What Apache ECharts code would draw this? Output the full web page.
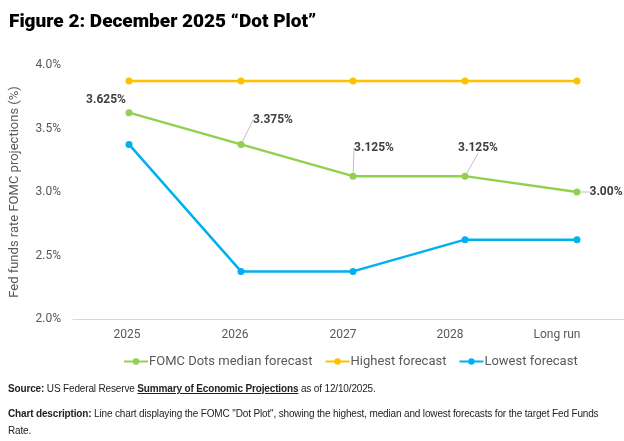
<!DOCTYPE html>
<html>
<head>
<meta charset="utf-8">
<script src="https://cdn.jsdelivr.net/npm/echarts@6/dist/echarts.min.js"></script>
<style>
html,body{margin:0;padding:0;background:#fff;}
#wrap{position:relative;width:624px;height:441px;overflow:hidden;}
#chart{position:absolute;left:0;top:0;width:633px;height:441px;}
.foot{position:absolute;left:8px;font-family:"Liberation Sans",Arial,sans-serif;font-size:10px;color:#222;letter-spacing:-0.15px;white-space:nowrap;}
.foot b{font-weight:bold;}
</style>
</head>
<body>
<div id="wrap">
<div id="chart"></div>
<div class="foot" style="top:383px;"><b>Source:</b> US Federal Reserve <b><u>Summary of Economic Projections</u></b> as of 12/10/2025.</div>
<div class="foot" style="top:408px;"><b>Chart description:</b> Line chart displaying the FOMC "Dot Plot", showing the highest, median and lowest forecasts for the target Fed Funds</div>
<div class="foot" style="top:425px;">Rate.</div>
</div>
<script>
const categories = ['2025', '2026', '2027', '2028', 'Long run'];
const medianForecast = [3.625, 3.375, 3.125, 3.125, 3.0];
const highestForecast = [3.875, 3.875, 3.875, 3.875, 3.875];
const lowestForecast = [3.375, 2.375, 2.375, 2.625, 2.625];
const medianLabels = ['3.625%', '3.375%', '3.125%', '3.125%', '3.00%'];

const chart = echarts.init(document.getElementById('chart'), null, {renderer: 'canvas'});
// label placement styles (not data)
const labelMoves = [{dx: -23, dy: 3}, {dx: 32, dy: -9}, {dx: 21, dy: -13}, {dx: 13, dy: -13}, null];
const tickShift = [4, 12, 20, 30, 40];
const medianData = medianForecast.map((v, i) => {
  if (i === 0) return {value: v, labelLine: {show: false}};
  if (i === 4) return {value: v, label: {position: 'right', distance: 9}};
  return v;
});
const richTicks = {};
tickShift.forEach((s, i) => { richTicks['t' + i] = {padding: [0, s, 0, 0], color: '#595959', fontFamily: 'Roboto', fontSize: 12}; });
chart.setOption({
  animation: false,
  title: {
    text: 'Figure 2: December 2025 \u201cDot Plot\u201d',
    left: 4, top: 8,
    textStyle: {fontFamily: 'Roboto', fontWeight: 900, fontSize: 19, color: '#000'}
  },
  grid: {left: 73, right: 0, top: 65, bottom: 122, containLabel: false},
  legend: {
    left: 118, top: 350,
    itemWidth: 24, itemHeight: 8, itemGap: 12,
    textStyle: {fontFamily: 'Roboto', fontSize: 13, color: '#595959', padding: [0, 0, 0, -4]},
    data: ['FOMC Dots median forecast', 'Highest forecast', 'Lowest forecast']
  },
  xAxis: {
    type: 'category',
    data: categories,
    boundaryGap: true,
    axisLine: {lineStyle: {color: '#d9d9d9', width: 1}},
    axisTick: {show: false},
    axisLabel: {color: '#595959', fontFamily: 'Roboto', fontSize: 12, margin: 10,
      formatter: (v, i) => '{t' + i + '|' + v + '}', rich: richTicks}
  },
  yAxis: {
    type: 'value',
    min: 2, max: 4, interval: 0.5,
    name: 'Fed funds rate FOMC projections (%)',
    nameLocation: 'middle', nameGap: 52, nameRotate: 90,
    nameTextStyle: {color: '#595959', fontFamily: 'Roboto', fontSize: 13},
    axisLine: {show: false},
    axisTick: {show: false},
    splitLine: {show: false},
    axisLabel: {color: '#595959', fontFamily: 'Roboto', fontSize: 12, margin: 12,
      formatter: v => v.toFixed(1) + '%'}
  },
  series: [
    {
      name: 'FOMC Dots median forecast', type: 'line', data: medianData,
      symbol: 'circle', symbolSize: 7, z: 3,
      itemStyle: {color: '#92d050'}, lineStyle: {color: '#92d050', width: 2.5},
      label: {
        show: true,
        formatter: p => medianLabels[p.dataIndex],
        position: 'top',
        distance: 6,
        color: '#404040', fontFamily: 'Roboto', fontWeight: 'bold', fontSize: 12
      },
      labelLayout: function (p) {
        const m = labelMoves[p.dataIndex];
        return m ? {dx: m.dx, dy: m.dy} : {};
      },
      labelLine: {show: true, lineStyle: {color: '#bfbfbf', width: 1}, length2: 0, minTurnAngle: 0}
    },
    {
      name: 'Highest forecast', type: 'line', data: highestForecast,
      symbol: 'circle', symbolSize: 7, z: 2,
      itemStyle: {color: '#ffc000'}, lineStyle: {color: '#ffc000', width: 2.5}
    },
    {
      name: 'Lowest forecast', type: 'line', data: lowestForecast,
      symbol: 'circle', symbolSize: 7, z: 2,
      itemStyle: {color: '#00b0f0'}, lineStyle: {color: '#00b0f0', width: 2.5}
    }
  ]
});
</script>
</body>
</html>
